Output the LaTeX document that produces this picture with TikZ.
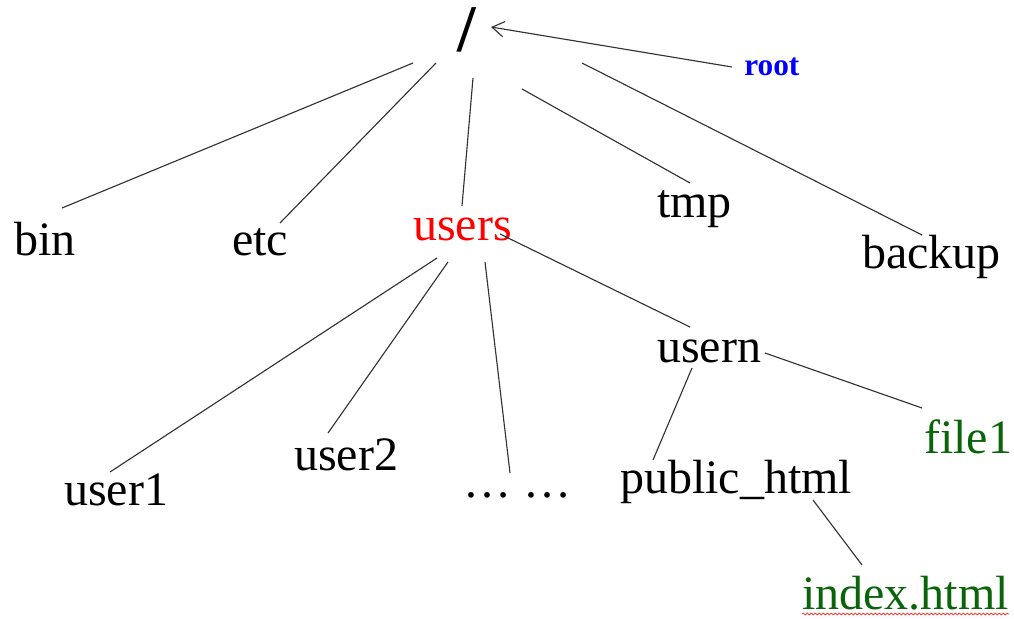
\documentclass[tikz,border=0pt]{standalone}
\usepackage{fontspec}
\setmainfont{Liberation Serif}
\usetikzlibrary{arrows.meta,decorations.pathmorphing}
\definecolor{dirgreen}{RGB}{10,100,10}
\definecolor{dirred}{RGB}{255,0,0}
\definecolor{dirblue}{RGB}{0,0,255}
\begin{document}
\begin{tikzpicture}[x=0.75pt,y=-0.75pt,
  lbl/.style={inner sep=0pt, anchor=base west, font=\fontsize{36}{40}\selectfont},
  conn/.style={draw=black!80, line width=0.85pt},
  pointer/.style={conn, -{Straight Barb[length=9pt,width=11.5pt,line width=0.85pt]}},
  squiggle/.style={draw=red!75, line width=0.6pt, decorate,
    decoration={snake, amplitude=0.7pt, segment length=3pt}}]
\useasboundingbox (0,0) rectangle (1014,618);

% labels
\node[inner sep=0pt, anchor=base west, font=\bfseries\fontsize{50}{54}\selectfont] (slash) at (457,51) {/};
\node[inner sep=0pt, anchor=base west, text=dirblue, font=\bfseries\fontsize{23.5}{26}\selectfont] (root) at (744,75) {root};
\node[lbl] (bin) at (14,255) {bin};
\node[lbl] (etc) at (232,255) {etc};
\node[lbl, text=dirred] (users) at (413,240) {users};
\node[lbl] (tmp) at (657,217) {tmp};
\node[lbl] (backup) at (862,268) {backup};
\node[lbl] (usern) at (657,362) {usern};
\node[lbl, text=dirgreen] (file1) at (924,453) {file1};
\node[lbl] (user1) at (64,505) {user1};
\node[lbl] (user2) at (294,470) {user2};
\node[lbl] (dots) at (463,497) {\dots\ \dots};
\node[lbl] (public) at (620,493) {public\_html};
\node[lbl, text=dirgreen] (index) at (802,609) {index.html};

% connector end points
\coordinate (s-bin) at (413,63);   \coordinate (e-bin) at (62,208);
\coordinate (s-etc) at (436,63);   \coordinate (e-etc) at (280,223);
\coordinate (s-users) at (473,78); \coordinate (e-users) at (462,206);
\coordinate (s-tmp) at (522,89);   \coordinate (e-tmp) at (690,183);
\coordinate (s-backup) at (582,63);\coordinate (e-backup) at (922,235);
\coordinate (s-user1) at (437,258);\coordinate (e-user1) at (110,472);
\coordinate (s-user2) at (448,262);\coordinate (e-user2) at (328,433);
\coordinate (s-dots) at (485,262); \coordinate (e-dots) at (510,473);
\coordinate (s-usern) at (500,234);\coordinate (e-usern) at (690,327);
\coordinate (s-public) at (692,368);\coordinate (e-public) at (653,460);
\coordinate (s-file1) at (765,353);\coordinate (e-file1) at (922,408);
\coordinate (s-index) at (813,500);\coordinate (e-index) at (862,565);
\coordinate (s-root) at (732,67);  \coordinate (e-root) at (491,27);
\coordinate (sq-a) at (802,614);   \coordinate (sq-b) at (1009,614);

% connectors
\draw[conn] (s-bin) -- (e-bin);
\draw[conn] (s-etc) -- (e-etc);
\draw[conn] (s-users) -- (e-users);
\draw[conn] (s-tmp) -- (e-tmp);
\draw[conn] (s-backup) -- (e-backup);
\draw[conn] (s-user1) -- (e-user1);
\draw[conn] (s-user2) -- (e-user2);
\draw[conn] (s-dots) -- (e-dots);
\draw[conn] (s-usern) -- (e-usern);
\draw[conn] (s-public) -- (e-public);
\draw[conn] (s-file1) -- (e-file1);
\draw[conn] (s-index) -- (e-index);
\draw[pointer] (s-root) -- (e-root);

% spell-check underline
\draw[squiggle] (sq-a) -- (sq-b);
\end{tikzpicture}
\end{document}
